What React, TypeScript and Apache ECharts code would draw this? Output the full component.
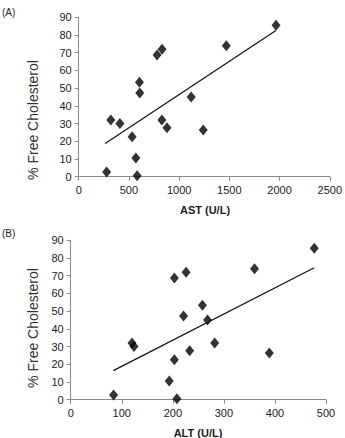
import React, { useEffect, useRef } from "react";
import * as echarts from "echarts";

// % free cholesterol per subject (same subjects in both panels)
const freeCholesterol = [2.6, 32, 30, 22.6, 10.5, 0.5, 53.3, 47.3, 68.7, 72, 32, 27.7, 45, 26.4, 74, 85.5];
// AST (U/L) per subject
const astValues = [278, 320, 410, 532, 569, 582, 605, 608, 780, 830, 828, 879, 1120, 1240, 1470, 1965];
// ALT (U/L) per subject
const altValues = [84, 120, 124, 203, 193, 208, 258, 221, 203, 226, 282, 233, 268, 389, 360, 477];

// Linear trend line endpoints [x, y]
const astTrend = [[264, 18.8], [1964, 82.6]];
const altTrend = [[83.5, 16.4], [477, 74.5]];

const yTicks = { min: 0, max: 90, interval: 10 };
const astTicks = { min: 0, max: 2500, interval: 500 };
const altTicks = { min: 0, max: 500, interval: 100 };

const FONT = "Liberation Sans, Arial, sans-serif";

function pairs(xs: number[], ys: number[]) {
  return xs.map((x, i) => [x, ys[i]]);
}

export default function App() {
  const ref = useRef<HTMLDivElement>(null);

  useEffect(() => {
    if (!ref.current) return;
    const chart = echarts.init(ref.current, undefined, { renderer: "svg" });

    const axisLine = { show: true, lineStyle: { color: "#8a8a8a", width: 1 } };
    const axisTick = { show: true, length: 4, lineStyle: { color: "#8a8a8a" } };
    const axisLabel = {
      color: "#222",
      fontSize: 11,
      fontFamily: FONT,
      formatter: (v: number) => String(v),
    };

    const xAxisBase = {
      type: "value" as const,
      axisLine,
      axisTick,
      axisLabel: { ...axisLabel, margin: 8 },
      splitLine: { show: false },
    };
    const yAxisBase = {
      type: "value" as const,
      ...yTicks,
      axisLine,
      axisTick,
      axisLabel: { ...axisLabel, margin: 7 },
      splitLine: { show: false },
    };

    const scatterStyle = {
      type: "scatter" as const,
      symbol: "diamond",
      symbolSize: [9, 11],
      itemStyle: { color: "#000" },
    };
    const trendStyle = {
      type: "line" as const,
      showSymbol: false,
      symbol: "none",
      lineStyle: { color: "#111", width: 1.2 },
    };

    chart.setOption({
      animation: false,
      backgroundColor: "#fff",
      grid: [
        { left: 78.7, right: 14, top: 17.3, height: 159.4 },
        { left: 70.7, right: 19, top: 240.3, height: 159.4 },
      ],
      xAxis: [
        { ...xAxisBase, gridIndex: 0, ...astTicks },
        { ...xAxisBase, gridIndex: 1, ...altTicks },
      ],
      yAxis: [
        { ...yAxisBase, gridIndex: 0 },
        { ...yAxisBase, gridIndex: 1 },
      ],
      series: [
        { ...scatterStyle, xAxisIndex: 0, yAxisIndex: 0, data: pairs(astValues, freeCholesterol) },
        { ...trendStyle, xAxisIndex: 0, yAxisIndex: 0, data: astTrend },
        { ...scatterStyle, xAxisIndex: 1, yAxisIndex: 1, data: pairs(altValues, freeCholesterol) },
        { ...trendStyle, xAxisIndex: 1, yAxisIndex: 1, data: altTrend },
      ],
      graphic: [
        { type: "text", left: 2, top: 7, style: { text: "(A)", fontSize: 10, fontFamily: FONT, fill: "#222" } },
        { type: "text", left: 2, top: 228, style: { text: "(B)", fontSize: 10, fontFamily: FONT, fill: "#222" } },
        {
          type: "text", x: 33, y: 120, rotation: Math.PI / 2,
          style: { text: "% Free Cholesterol", fontSize: 14, fontFamily: FONT, fill: "#333", align: "center", verticalAlign: "middle" },
        },
        {
          type: "text", x: 33, y: 328, rotation: Math.PI / 2,
          style: { text: "% Free Cholesterol", fontSize: 14, fontFamily: FONT, fill: "#333", align: "center", verticalAlign: "middle" },
        },
        {
          type: "text", x: 205, y: 210,
          style: { text: "AST (U/L)", fontSize: 11, fontWeight: "bold", fontFamily: FONT, fill: "#222", align: "center", verticalAlign: "middle" },
        },
        {
          type: "text", x: 198, y: 433,
          style: { text: "ALT (U/L)", fontSize: 11, fontWeight: "bold", fontFamily: FONT, fill: "#222", align: "center", verticalAlign: "middle" },
        },
      ],
    });

    return () => chart.dispose();
  }, []);

  return (
    <div
      ref={ref}
      style={{ position: "fixed", left: 0, top: 0, width: 345, height: 438, background: "#fff" }}
    />
  );
}
